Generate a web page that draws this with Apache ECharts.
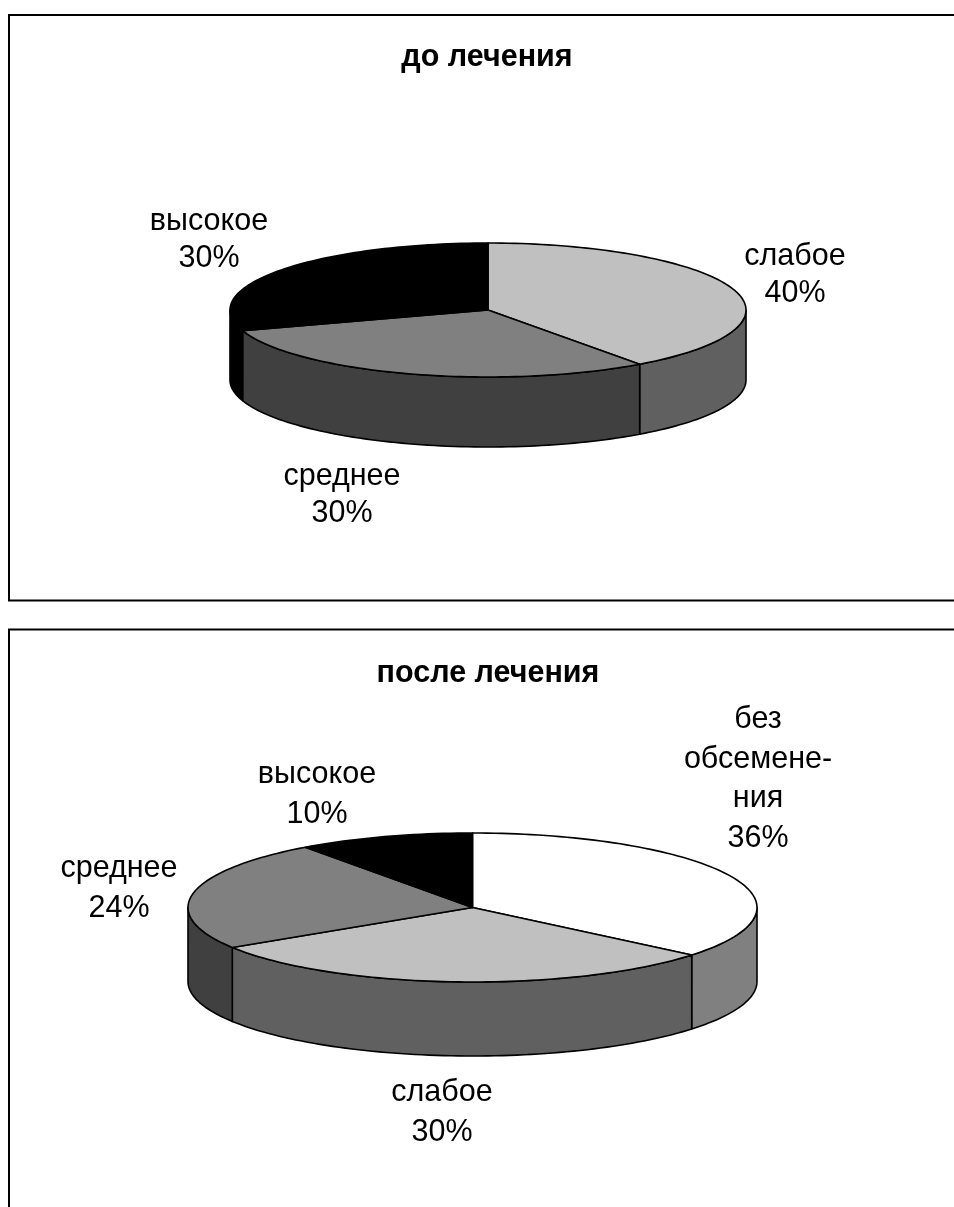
<!DOCTYPE html>
<html>
<head>
<meta charset="utf-8">
<style>html,body{margin:0;padding:0;background:#fff}#chart{width:954px;height:1207px}</style>
<script src="https://cdn.jsdelivr.net/npm/echarts@6/dist/echarts.min.js"></script>
</head>
<body>
<div id="chart"></div>
<script>
// Contamination levels before treatment
const beforeTitle = 'до лечения';
const beforeCategories = ['слабое', 'среднее', 'высокое'];
const beforeValues = [40, 30, 30];
const beforeTopColors = ['#c0c0c0', '#808080', '#000000'];
const beforeSideColors = ['#606060', '#404040', '#000000'];

// Contamination levels after treatment
const afterTitle = 'после лечения';
const afterCategories = ['без\nобсемене-\nния', 'слабое', 'среднее', 'высокое'];
const afterValues = [36, 30, 24, 10];
const afterTopColors = ['#ffffff', '#c0c0c0', '#808080', '#000000'];
const afterSideColors = ['#808080', '#606060', '#404040', '#000000'];

// Disc geometry of each tilted pie and where its labels sit
const beforeDisc = { cx: 488, cy: 310, rx: 258, ry: 67, depth: 70, labelLine: 37 };
const afterDisc = { cx: 472.5, cy: 907.5, rx: 284.5, ry: 74.5, depth: 74, labelLine: 39.5 };
const beforeLabelAnchors = [[795, 275], [342, 495], [209, 240]];
const afterLabelAnchors = [[758, 779], [442, 1112.5], [119, 888.5], [317, 794.5]];

const FONT = '"Liberation Sans", Arial, sans-serif';
const FONT_SIZE = 30.5;
const LINE = '#000000';

function rimPoint(disc, deg, drop) {
  const a = deg * Math.PI / 180;
  return [disc.cx + disc.rx * Math.sin(a), disc.cy - disc.ry * Math.cos(a) + drop];
}

function arcPoints(disc, from, to, drop) {
  const pts = [];
  const steps = Math.max(1, Math.ceil(Math.abs(to - from) / 1.5));
  for (let i = 0; i <= steps; i++) {
    pts.push(rimPoint(disc, from + (to - from) * i / steps, drop));
  }
  return pts;
}

// A tilted pie as one custom series: each slice is its side wall plus its top face
function tiltedPie(categories, values, topColors, sideColors, disc, anchors) {
  const total = values.reduce((s, v) => s + v, 0);
  return {
    type: 'custom',
    coordinateSystem: 'none',
    silent: true,
    animation: false,
    data: values.map((v, i) => ({ name: categories[i], value: [v, i] })),
    renderItem(params, api) {
      const idx = api.value(1);
      let before = 0;
      for (let i = 0; i < idx; i++) before += values[i];
      const start = before / total * 360;
      const end = (before + api.value(0)) / total * 360;
      const children = [];

      // Only the front half of the rim (90..270 degrees) shows a wall
      const wallFrom = Math.max(start, 90);
      const wallTo = Math.min(end, 270);
      if (wallTo > wallFrom) {
        const wall = arcPoints(disc, wallFrom, wallTo, 0)
          .concat(arcPoints(disc, wallTo, wallFrom, disc.depth));
        children.push({
          type: 'polygon',
          shape: { points: wall },
          style: { fill: sideColors[idx], stroke: LINE, lineWidth: 1.6, lineJoin: 'round' }
        });
      }

      const face = [[disc.cx, disc.cy]].concat(arcPoints(disc, start, end, 0));
      children.push({
        type: 'polygon',
        shape: { points: face },
        style: { fill: topColors[idx], stroke: LINE, lineWidth: 1.6, lineJoin: 'round' }
      });

      children.push({
        type: 'text',
        x: anchors[idx][0],
        y: anchors[idx][1],
        style: {
          text: categories[idx] + '\n' + api.value(0) + '%',
          fill: '#000',
          font: '400 ' + FONT_SIZE + 'px ' + FONT,
          lineHeight: disc.labelLine,
          align: 'center',
          verticalAlign: 'middle'
        }
      });
      return { type: 'group', children };
    }
  };
}

const frameStyle = { fill: 'none', stroke: '#000', lineWidth: 2 };
const titleStyle = { fontFamily: FONT, fontSize: FONT_SIZE, fontWeight: 'bold', color: '#000' };

const chart = echarts.init(document.getElementById('chart'), null, { renderer: 'canvas' });
chart.setOption({
  backgroundColor: '#ffffff',
  animation: false,
  title: [
    { text: beforeTitle, left: 482, top: 37, textAlign: 'center', textStyle: titleStyle },
    { text: afterTitle, left: 483, top: 653, textAlign: 'center', textStyle: titleStyle }
  ],
  graphic: [
    { type: 'rect', shape: { x: 9, y: 15, width: 1000, height: 585.5 }, style: frameStyle, silent: true },
    { type: 'rect', shape: { x: 9, y: 629.5, width: 1000, height: 700 }, style: frameStyle, silent: true }
  ],
  series: [
    tiltedPie(beforeCategories, beforeValues, beforeTopColors, beforeSideColors, beforeDisc, beforeLabelAnchors),
    tiltedPie(afterCategories, afterValues, afterTopColors, afterSideColors, afterDisc, afterLabelAnchors)
  ]
});
</script>
</body>
</html>
